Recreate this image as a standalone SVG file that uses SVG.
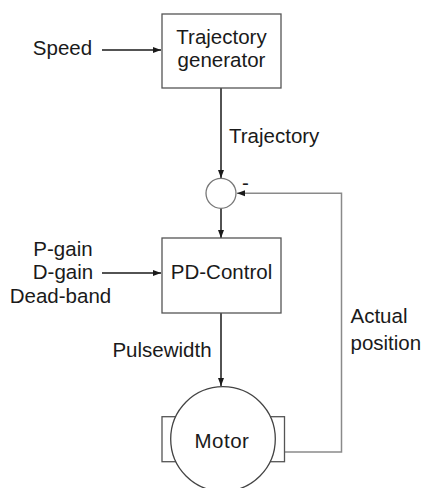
<svg xmlns="http://www.w3.org/2000/svg" width="422" height="488" viewBox="0 0 422 488">
<style>
text{font-family:"Liberation Sans",Arial,sans-serif;font-size:20.5px;fill:#1a1a1a}
.box{fill:#fff;stroke:#555;stroke-width:1.3}
.ln{fill:none;stroke:#1a1a1a;stroke-width:1.5}
.fb{fill:none;stroke:#8a8a8a;stroke-width:1.5}
.c{text-anchor:middle}
</style>
<defs>
<marker id="ah" viewBox="0 0 8 6" refX="8" refY="3" markerWidth="8" markerHeight="6" markerUnits="userSpaceOnUse" orient="auto">
<path d="M0,0 L8,3 L0,6 Z" fill="#1a1a1a"/>
</marker>
</defs>
<g id="connectors">
<line class="ln" x1="102" y1="50" x2="161" y2="50" stroke-width="2.2" marker-end="url(#ah)"/>
<line class="ln" x1="221" y1="88" x2="221" y2="178" marker-end="url(#ah)"/>
<line class="ln" x1="221" y1="208" x2="221" y2="238" marker-end="url(#ah)"/>
<line class="ln" x1="102" y1="273" x2="161" y2="273" marker-end="url(#ah)"/>
<line class="ln" x1="221" y1="313" x2="221" y2="386" marker-end="url(#ah)"/>
<polyline class="fb" points="285,452 341.5,452 341.5,193.3 237,193.3"/>
<path d="M237,193.3 L245,190.3 L245,196.3 Z" fill="#1a1a1a"/>
</g>
<g id="speed"><text x="62.5" y="55" class="c">Speed</text></g>
<g id="trajgen">
<rect class="box" x="162" y="14" width="119" height="74"/>
<text x="221.5" y="44" class="c">Trajectory</text>
<text x="221.5" y="66.5" class="c">generator</text>
</g>
<g id="trajlabel"><text x="229" y="143">Trajectory</text></g>
<g id="sum">
<circle cx="221" cy="193.3" r="15" fill="#fff" stroke="#777" stroke-width="1.3"/>
<text x="242" y="190" font-size="16">-</text>
</g>
<g id="gains">
<text x="63" y="256" class="c">P-gain</text>
<text x="63" y="279.3" class="c">D-gain</text>
<text x="60.5" y="302.7" class="c">Dead-band</text>
</g>
<g id="pd">
<rect class="box" x="162" y="238" width="119" height="75"/>
<text x="221.5" y="279.3" class="c">PD-Control</text>
</g>
<g id="pulselabel"><text x="162" y="356.7" class="c">Pulsewidth</text></g>
<g id="actual">
<text x="350.5" y="322.7">Actual</text>
<text x="350.5" y="350">position</text>
</g>
<g id="motor">
<rect class="box" x="162" y="416.7" width="14" height="45" stroke="#666"/>
<rect class="box" x="270" y="416.7" width="14.5" height="45" stroke="#666"/>
<circle cx="223" cy="439" r="52.3" fill="#fff" stroke="#444" stroke-width="1.3"/>
<text x="222" y="448.3" class="c" letter-spacing="0.5">Motor</text>
</g>
</svg>
